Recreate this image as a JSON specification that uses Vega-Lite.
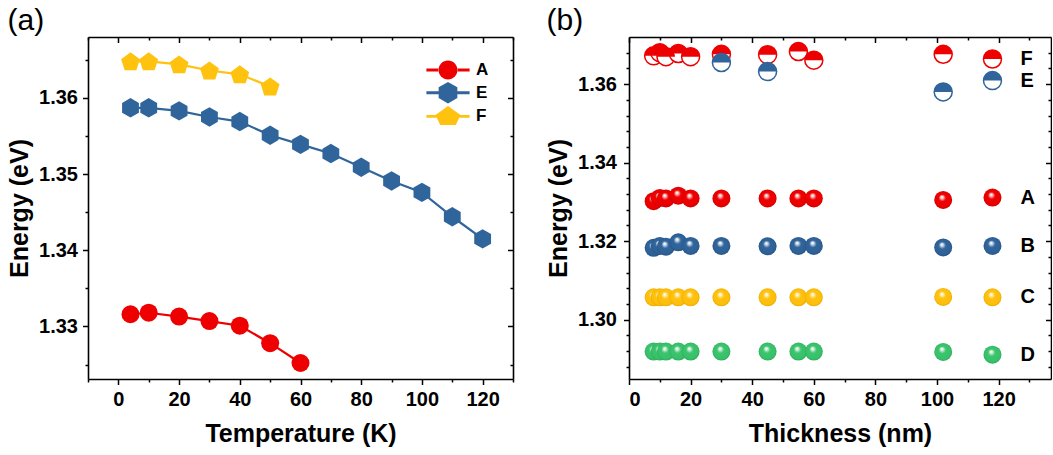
{
  "$schema": "https://vega.github.io/schema/vega-lite/v6.json",
  "background": "white",
  "padding": {"left": 7, "top": 6, "right": 0, "bottom": 0},
  "config": {
    "font": "Liberation Sans",
    "view": {"stroke": null},
    "axis": {
      "grid": false,
      "domainColor": "black",
      "domainWidth": 1.6,
      "tickColor": "black",
      "tickWidth": 1.5,
      "labelColor": "black",
      "titleColor": "black",
      "labelFont": "Liberation Sans",
      "titleFont": "Liberation Sans",
      "labelFontWeight": "bold",
      "titleFontWeight": "bold",
      "labelFontSize": 20,
      "titleFontSize": 25
    },
    "legend": {
      "orient": "top-right", "offset": 24, "title": null,
      "labelFont": "Liberation Sans", "labelFontSize": 17, "labelFontWeight": "bold", "labelColor": "black",
      "labelOffset": 19, "symbolSize": 324, "rowPadding": 1.7, "symbolOpacity": 1, "symbolStrokeWidth": 0
    },
    "title": {"font": "Liberation Sans", "fontSize": 30, "fontWeight": "normal", "anchor": "start", "frame": "bounds", "color": "black"},
    "concat": {"spacing": 32}
  },
  "resolve": {
    "scale": {"color": "independent", "shape": "independent"},
    "legend": {"color": "independent", "shape": "independent"}
  },
  "datasets": {
    "temp": [
      {"series": "A", "temperature": 4, "energy": 1.3316},
      {"series": "A", "temperature": 10, "energy": 1.3318},
      {"series": "A", "temperature": 20, "energy": 1.3313},
      {"series": "A", "temperature": 30, "energy": 1.3307},
      {"series": "A", "temperature": 40, "energy": 1.3301},
      {"series": "A", "temperature": 50, "energy": 1.3278},
      {"series": "A", "temperature": 60, "energy": 1.3252},
      {"series": "E", "temperature": 4, "energy": 1.3587},
      {"series": "E", "temperature": 10, "energy": 1.3587},
      {"series": "E", "temperature": 20, "energy": 1.3583},
      {"series": "E", "temperature": 30, "energy": 1.3575},
      {"series": "E", "temperature": 40, "energy": 1.3569},
      {"series": "E", "temperature": 50, "energy": 1.3551},
      {"series": "E", "temperature": 60, "energy": 1.3539},
      {"series": "E", "temperature": 70, "energy": 1.3527},
      {"series": "E", "temperature": 80, "energy": 1.3509},
      {"series": "E", "temperature": 90, "energy": 1.3491},
      {"series": "E", "temperature": 100, "energy": 1.3476},
      {"series": "E", "temperature": 110, "energy": 1.3444},
      {"series": "E", "temperature": 120, "energy": 1.3415},
      {"series": "F", "temperature": 4, "energy": 1.3648},
      {"series": "F", "temperature": 10, "energy": 1.3648},
      {"series": "F", "temperature": 20, "energy": 1.3644},
      {"series": "F", "temperature": 30, "energy": 1.3636},
      {"series": "F", "temperature": 40, "energy": 1.3631},
      {"series": "F", "temperature": 50, "energy": 1.3615}
    ],
    "thick": [
      {"series": "A", "thickness": 8, "energy": 1.3302},
      {"series": "A", "thickness": 10, "energy": 1.3310},
      {"series": "A", "thickness": 12, "energy": 1.3309},
      {"series": "A", "thickness": 16, "energy": 1.3316},
      {"series": "A", "thickness": 20, "energy": 1.3309},
      {"series": "A", "thickness": 30, "energy": 1.3309},
      {"series": "A", "thickness": 45, "energy": 1.3309},
      {"series": "A", "thickness": 55, "energy": 1.3309},
      {"series": "A", "thickness": 60, "energy": 1.3309},
      {"series": "A", "thickness": 102, "energy": 1.3305},
      {"series": "A", "thickness": 118, "energy": 1.3311},
      {"series": "B", "thickness": 8, "energy": 1.3183},
      {"series": "B", "thickness": 10, "energy": 1.3188},
      {"series": "B", "thickness": 12, "energy": 1.3186},
      {"series": "B", "thickness": 16, "energy": 1.3197},
      {"series": "B", "thickness": 20, "energy": 1.3188},
      {"series": "B", "thickness": 30, "energy": 1.3188},
      {"series": "B", "thickness": 45, "energy": 1.3187},
      {"series": "B", "thickness": 55, "energy": 1.3188},
      {"series": "B", "thickness": 60, "energy": 1.3188},
      {"series": "B", "thickness": 102, "energy": 1.3184},
      {"series": "B", "thickness": 118, "energy": 1.3188},
      {"series": "C", "thickness": 8, "energy": 1.3057},
      {"series": "C", "thickness": 10, "energy": 1.3057},
      {"series": "C", "thickness": 12, "energy": 1.3057},
      {"series": "C", "thickness": 16, "energy": 1.3057},
      {"series": "C", "thickness": 20, "energy": 1.3057},
      {"series": "C", "thickness": 30, "energy": 1.3057},
      {"series": "C", "thickness": 45, "energy": 1.3057},
      {"series": "C", "thickness": 55, "energy": 1.3057},
      {"series": "C", "thickness": 60, "energy": 1.3057},
      {"series": "C", "thickness": 102, "energy": 1.3058},
      {"series": "C", "thickness": 118, "energy": 1.3057},
      {"series": "D", "thickness": 8, "energy": 1.2919},
      {"series": "D", "thickness": 10, "energy": 1.2919},
      {"series": "D", "thickness": 12, "energy": 1.2919},
      {"series": "D", "thickness": 16, "energy": 1.2919},
      {"series": "D", "thickness": 20, "energy": 1.2919},
      {"series": "D", "thickness": 30, "energy": 1.2919},
      {"series": "D", "thickness": 45, "energy": 1.2919},
      {"series": "D", "thickness": 55, "energy": 1.2919},
      {"series": "D", "thickness": 60, "energy": 1.2919},
      {"series": "D", "thickness": 102, "energy": 1.2918},
      {"series": "D", "thickness": 118, "energy": 1.2911},
      {"series": "F", "thickness": 8, "energy": 1.3672},
      {"series": "F", "thickness": 10, "energy": 1.3680},
      {"series": "F", "thickness": 12, "energy": 1.3670},
      {"series": "F", "thickness": 16, "energy": 1.3678},
      {"series": "F", "thickness": 20, "energy": 1.3670},
      {"series": "F", "thickness": 30, "energy": 1.3676},
      {"series": "F", "thickness": 45, "energy": 1.3675},
      {"series": "F", "thickness": 55, "energy": 1.3683},
      {"series": "F", "thickness": 60, "energy": 1.3661},
      {"series": "F", "thickness": 102, "energy": 1.3676},
      {"series": "F", "thickness": 118, "energy": 1.3664},
      {"series": "E", "thickness": 30, "energy": 1.3655},
      {"series": "E", "thickness": 45, "energy": 1.3632},
      {"series": "E", "thickness": 102, "energy": 1.3580},
      {"series": "E", "thickness": 118, "energy": 1.3609}
    ]
  },
  "hconcat": [
    {
      "title": {"text": "(a)", "offset": 0},
      "width": 425,
      "height": 342,
      "data": {"name": "temp"},
      "layer": [
        {
          "mark": {"type": "line", "strokeWidth": 2.2},
          "encoding": {
            "x": {
              "field": "temperature", "type": "quantitative",
              "scale": {"domain": [-10, 130], "nice": false, "zero": false},
              "axis": {
                "orient": "bottom", "title": "Temperature (K)",
                "values": [-10, 0, 10, 20, 30, 40, 50, 60, 70, 80, 90, 100, 110, 120, 130],
                "labelExpr": "datum.value % 20 == 0 ? datum.label : ''",
                "tickSize": {"condition": {"test": "datum.value % 20 == 0", "value": 5.5}, "value": 3},
                "labelPadding": 5, "titlePadding": 12
              }
            },
            "y": {
              "field": "energy", "type": "quantitative",
              "scale": {"domain": [1.3231, 1.368], "nice": false, "zero": false},
              "axis": {
                "orient": "left", "title": "Energy (eV)", "format": ".2f",
                "values": [1.325, 1.33, 1.335, 1.34, 1.345, 1.35, 1.355, 1.36, 1.365],
                "labelExpr": "abs(datum.value*100 - round(datum.value*100)) < 0.001 ? datum.label : ''",
                "tickSize": {"condition": {"test": "abs(datum.value*100 - round(datum.value*100)) < 0.001", "value": 5.5}, "value": 3},
                "labelPadding": 5, "titlePadding": 6
              }
            },
            "detail": {"field": "series", "type": "nominal"},
            "stroke": {
              "condition": [
                {"test": "datum.series === 'A'", "value": "#EE0000"},
                {"test": "datum.series === 'E'", "value": "#30659B"}
              ],
              "value": "#FFC20E"
            }
          }
        },
        {
          "mark": {"type": "point", "filled": true, "opacity": 1, "size": 324, "strokeWidth": 0},
          "encoding": {
            "x": {
              "field": "temperature", "type": "quantitative",
              "scale": {"domain": [-10, 130], "nice": false, "zero": false},
              "axis": {
                "orient": "top", "title": null, "labels": false,
                "values": [-10, 0, 10, 20, 30, 40, 50, 60, 70, 80, 90, 100, 110, 120, 130],
                "tickSize": {"condition": {"test": "datum.value % 20 == 0", "value": -5.5}, "value": -3}
              }
            },
            "y": {
              "field": "energy", "type": "quantitative",
              "scale": {"domain": [1.3231, 1.368], "nice": false, "zero": false},
              "axis": {
                "orient": "right", "title": null, "labels": false,
                "values": [1.325, 1.33, 1.335, 1.34, 1.345, 1.35, 1.355, 1.36, 1.365],
                "tickSize": {"condition": {"test": "abs(datum.value*100 - round(datum.value*100)) < 0.001", "value": -5.5}, "value": -3}
              }
            },
            "color": {
              "condition": [
                {"test": "datum.series === 'A'", "value": "#EE0000"},
                {"test": "datum.series === 'E'", "value": "#30659B"}
              ],
              "value": "#FFC20E"
            },
            "shape": {
              "condition": [
                {"test": "datum.series === 'A'", "value": "circle"},
                {"test": "datum.series === 'E'", "value": "M0,-1.08L0.935,-0.54L0.935,0.54L0,1.08L-0.935,0.54L-0.935,-0.54Z"}
              ],
              "value": "M0,-1L1.046,-0.24L0.647,0.99L-0.647,0.99L-1.046,-0.24Z"
            }
          }
        },
        {
          "transform": [{"filter": "datum.temperature > 1000"}],
          "mark": {"type": "point", "filled": true, "opacity": 1, "size": 324, "strokeWidth": 0},
          "encoding": {
            "x": {"field": "temperature", "type": "quantitative", "scale": {"domain": [-10, 130], "nice": false, "zero": false}, "axis": null},
            "y": {"field": "energy", "type": "quantitative", "scale": {"domain": [1.3231, 1.368], "nice": false, "zero": false}, "axis": null},
            "color": {
              "field": "series", "type": "nominal",
              "scale": {"domain": ["A", "E", "F"], "range": ["#EE0000", "#30659B", "#FFC20E"]}
            },
            "shape": {
              "field": "series", "type": "nominal",
              "scale": {"domain": ["A", "E", "F"], "range": [
                "M-1.05,0A1.05,1.05 0 1,0 1.05,0A1.05,1.05 0 1,0 -1.05,0Z M-2.4,-0.16L-1,-0.16L-1,0.16L-2.4,0.16Z M1,-0.16L2.4,-0.16L2.4,0.16L1,0.16Z",
                "M0,-1.2L1.039,-0.6L1.039,0.6L0,1.2L-1.039,0.6L-1.039,-0.6Z M-2.4,-0.16L-1,-0.16L-1,0.16L-2.4,0.16Z M1,-0.16L2.4,-0.16L2.4,0.16L1,0.16Z",
                "M0,-1.15L1.39,-0.15L0.86,0.95L-0.86,0.95L-1.39,-0.15Z M-2.4,-0.16L-1.28,-0.16L-1.28,0.16L-2.4,0.16Z M1.28,-0.16L2.4,-0.16L2.4,0.16L1.28,0.16Z"
              ]}
            }
          }
        }
      ],
      "resolve": {"axis": {"x": "independent", "y": "independent"}}
    },
    {
      "title": {"text": "(b)", "offset": 0},
      "width": 422,
      "height": 342,
      "data": {"name": "thick"},
      "encoding": {
        "x": {"field": "thickness", "type": "quantitative", "scale": {"domain": [0, 137], "nice": false, "zero": false}, "axis": null},
        "y": {"field": "energy", "type": "quantitative", "scale": {"domain": [1.2849, 1.372], "nice": false, "zero": false}, "axis": null}
      },
      "layer": [
        {
          "transform": [{"filter": "datum.series === 'F'"}],
          "mark": {"type": "point", "shape": "circle", "filled": true, "fill": "white", "stroke": "#EE0000", "strokeWidth": 1.5, "size": 324, "opacity": 1},
          "encoding": {
            "x": {
              "field": "thickness", "type": "quantitative",
              "scale": {"domain": [0, 137], "nice": false, "zero": false},
              "axis": {
                "orient": "bottom", "title": "Thickness (nm)",
                "values": [0, 10, 20, 30, 40, 50, 60, 70, 80, 90, 100, 110, 120, 130],
                "labelExpr": "datum.value % 20 == 0 ? datum.label : ''",
                "tickSize": {"condition": {"test": "datum.value % 20 == 0", "value": 5.5}, "value": 3},
                "labelPadding": 5, "titlePadding": 12
              }
            },
            "y": {
              "field": "energy", "type": "quantitative",
              "scale": {"domain": [1.2849, 1.372], "nice": false, "zero": false},
              "axis": {
                "orient": "left", "title": "Energy (eV)", "format": ".2f",
                "values": [1.288, 1.292, 1.296, 1.3, 1.304, 1.308, 1.312, 1.316, 1.32, 1.324, 1.328, 1.332, 1.336, 1.34, 1.344, 1.348, 1.352, 1.356, 1.36, 1.364, 1.368],
                "labelExpr": "abs(datum.value*50 - round(datum.value*50)) < 0.001 ? datum.label : ''",
                "tickSize": {"condition": {"test": "abs(datum.value*50 - round(datum.value*50)) < 0.001", "value": 5.5}, "value": 3},
                "labelPadding": 7, "titlePadding": 6
              }
            }
          }
        },
        {
          "transform": [{"filter": "datum.series === 'F'"}],
          "mark": {"type": "point", "shape": "M-1,0A1,1 0 0,1 1,0Z", "filled": true, "fill": "#EE0000", "strokeWidth": 0, "size": 324, "opacity": 1},
          "encoding": {
            "x": {
              "field": "thickness", "type": "quantitative",
              "scale": {"domain": [0, 137], "nice": false, "zero": false},
              "axis": {
                "orient": "top", "title": null, "labels": false,
                "values": [0, 10, 20, 30, 40, 50, 60, 70, 80, 90, 100, 110, 120, 130],
                "tickSize": {"condition": {"test": "datum.value % 20 == 0", "value": -5.5}, "value": -3}
              }
            },
            "y": {
              "field": "energy", "type": "quantitative",
              "scale": {"domain": [1.2849, 1.372], "nice": false, "zero": false},
              "axis": {
                "orient": "right", "title": null, "labels": false,
                "values": [1.288, 1.292, 1.296, 1.3, 1.304, 1.308, 1.312, 1.316, 1.32, 1.324, 1.328, 1.332, 1.336, 1.34, 1.344, 1.348, 1.352, 1.356, 1.36, 1.364, 1.368],
                "tickSize": {"condition": {"test": "abs(datum.value*50 - round(datum.value*50)) < 0.001", "value": -5.5}, "value": -3}
              }
            }
          }
        },
        {
          "transform": [{"filter": "datum.series === 'E'"}],
          "mark": {"type": "point", "shape": "circle", "filled": true, "fill": "white", "stroke": "#30659B", "strokeWidth": 1.5, "size": 324, "opacity": 1}
        },
        {
          "transform": [{"filter": "datum.series === 'E'"}],
          "mark": {"type": "point", "shape": "M-1,0A1,1 0 0,1 1,0Z", "filled": true, "fill": "#30659B", "strokeWidth": 0, "size": 324, "opacity": 1}
        },
        {
          "transform": [{"filter": "datum.series === 'A'"}],
          "mark": {"type": "point", "shape": "circle", "filled": true, "strokeWidth": 0, "size": 324, "opacity": 1,
            "fill": {"gradient": "radial", "x1": 0.42, "y1": 0.32, "r1": 0, "x2": 0.5, "y2": 0.5, "r2": 0.5,
              "stops": [{"offset": 0, "color": "#ffffff"}, {"offset": 0.12, "color": "#fbe4e4"}, {"offset": 0.4, "color": "#EE0000"}, {"offset": 0.85, "color": "#EB0000"}, {"offset": 1, "color": "#D00000"}]}}
        },
        {
          "transform": [{"filter": "datum.series === 'B'"}],
          "mark": {"type": "point", "shape": "circle", "filled": true, "strokeWidth": 0, "size": 324, "opacity": 1,
            "fill": {"gradient": "radial", "x1": 0.42, "y1": 0.32, "r1": 0, "x2": 0.5, "y2": 0.5, "r2": 0.5,
              "stops": [{"offset": 0, "color": "#ffffff"}, {"offset": 0.12, "color": "#e4ecf5"}, {"offset": 0.4, "color": "#30659B"}, {"offset": 0.85, "color": "#2E6197"}, {"offset": 1, "color": "#275383"}]}}
        },
        {
          "transform": [{"filter": "datum.series === 'C'"}],
          "mark": {"type": "point", "shape": "circle", "filled": true, "strokeWidth": 0, "size": 324, "opacity": 1,
            "fill": {"gradient": "radial", "x1": 0.42, "y1": 0.32, "r1": 0, "x2": 0.5, "y2": 0.5, "r2": 0.5,
              "stops": [{"offset": 0, "color": "#ffffff"}, {"offset": 0.12, "color": "#fff3d2"}, {"offset": 0.4, "color": "#FFC20E"}, {"offset": 0.85, "color": "#FDBF0C"}, {"offset": 1, "color": "#EBAA00"}]}}
        },
        {
          "transform": [{"filter": "datum.series === 'D'"}],
          "mark": {"type": "point", "shape": "circle", "filled": true, "strokeWidth": 0, "size": 324, "opacity": 1,
            "fill": {"gradient": "radial", "x1": 0.42, "y1": 0.32, "r1": 0, "x2": 0.5, "y2": 0.5, "r2": 0.5,
              "stops": [{"offset": 0, "color": "#ffffff"}, {"offset": 0.12, "color": "#e2f6e9"}, {"offset": 0.4, "color": "#3AC46D"}, {"offset": 0.85, "color": "#38C16A"}, {"offset": 1, "color": "#2EAA5B"}]}}
        },
        {
          "transform": [{"filter": "datum.thickness == 118"}],
          "mark": {"type": "text", "align": "left", "baseline": "middle", "dx": 28, "font": "Liberation Sans", "fontSize": 20, "fontWeight": "bold", "color": "black"},
          "encoding": {"text": {"field": "series", "type": "nominal"}}
        }
      ],
      "resolve": {"axis": {"x": "independent", "y": "independent"}}
    }
  ]
}
